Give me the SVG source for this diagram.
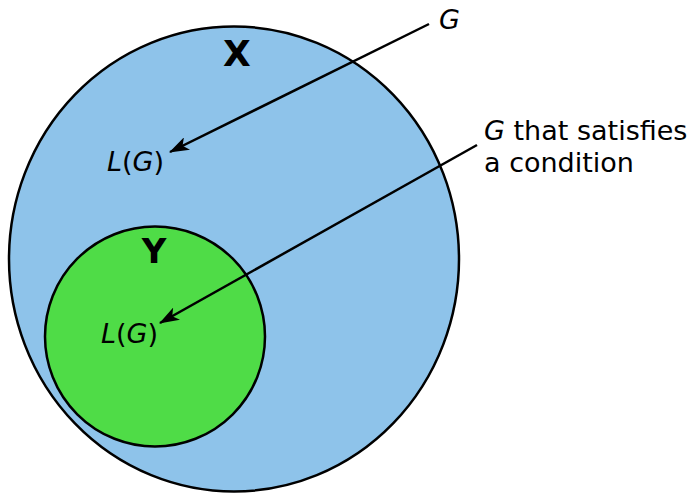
<svg xmlns="http://www.w3.org/2000/svg" width="693" height="495" viewBox="0 0 693 495">
<defs>
<marker id="ah" viewBox="0 0 20 14" refX="19" refY="7" markerWidth="20" markerHeight="14" markerUnits="userSpaceOnUse" orient="auto">
<path d="M0,0 L20,7 L0,14 L5,7 Z" fill="#000"/>
</marker>
<style>
.t{font-family:"DejaVu Sans",sans-serif;font-size:27px;fill:#000}
.i{font-style:italic}
.b{font-family:"DejaVu Sans",sans-serif;font-weight:bold;fill:#000;text-anchor:middle}
.c{stroke:#000;stroke-width:2.5}
.a{stroke:#000;stroke-width:2.5;fill:none;marker-end:url(#ah)}
</style>
</defs>
<rect width="693" height="495" fill="#fff"/>
<g id="X">
<ellipse class="c" cx="234" cy="259" rx="225" ry="232.5" fill="#8ec3ea"/>
<text class="b" x="237" y="66" font-size="36">X</text>
<text class="t" x="107" y="171"><tspan class="i">L</tspan>(<tspan class="i">G</tspan>)</text>
</g>
<g id="Y">
<circle class="c" cx="155" cy="336.5" r="110" fill="#4fdc47"/>
<text class="b" x="154" y="263" font-size="34">Y</text>
<text class="t" x="101" y="343"><tspan class="i">L</tspan>(<tspan class="i">G</tspan>)</text>
</g>
<g id="labelG">
<text class="t i" x="439" y="29">G</text>
</g>
<g id="labelCond">
<text class="t" x="484" y="140"><tspan class="i">G</tspan> that satisfies</text>
<text class="t" x="484" y="172">a condition</text>
</g>
<g id="connectors">
<line class="a" x1="429" y1="24" x2="170" y2="152"/>
<line class="a" x1="477" y1="145" x2="160" y2="323"/>
</g>
</svg>
